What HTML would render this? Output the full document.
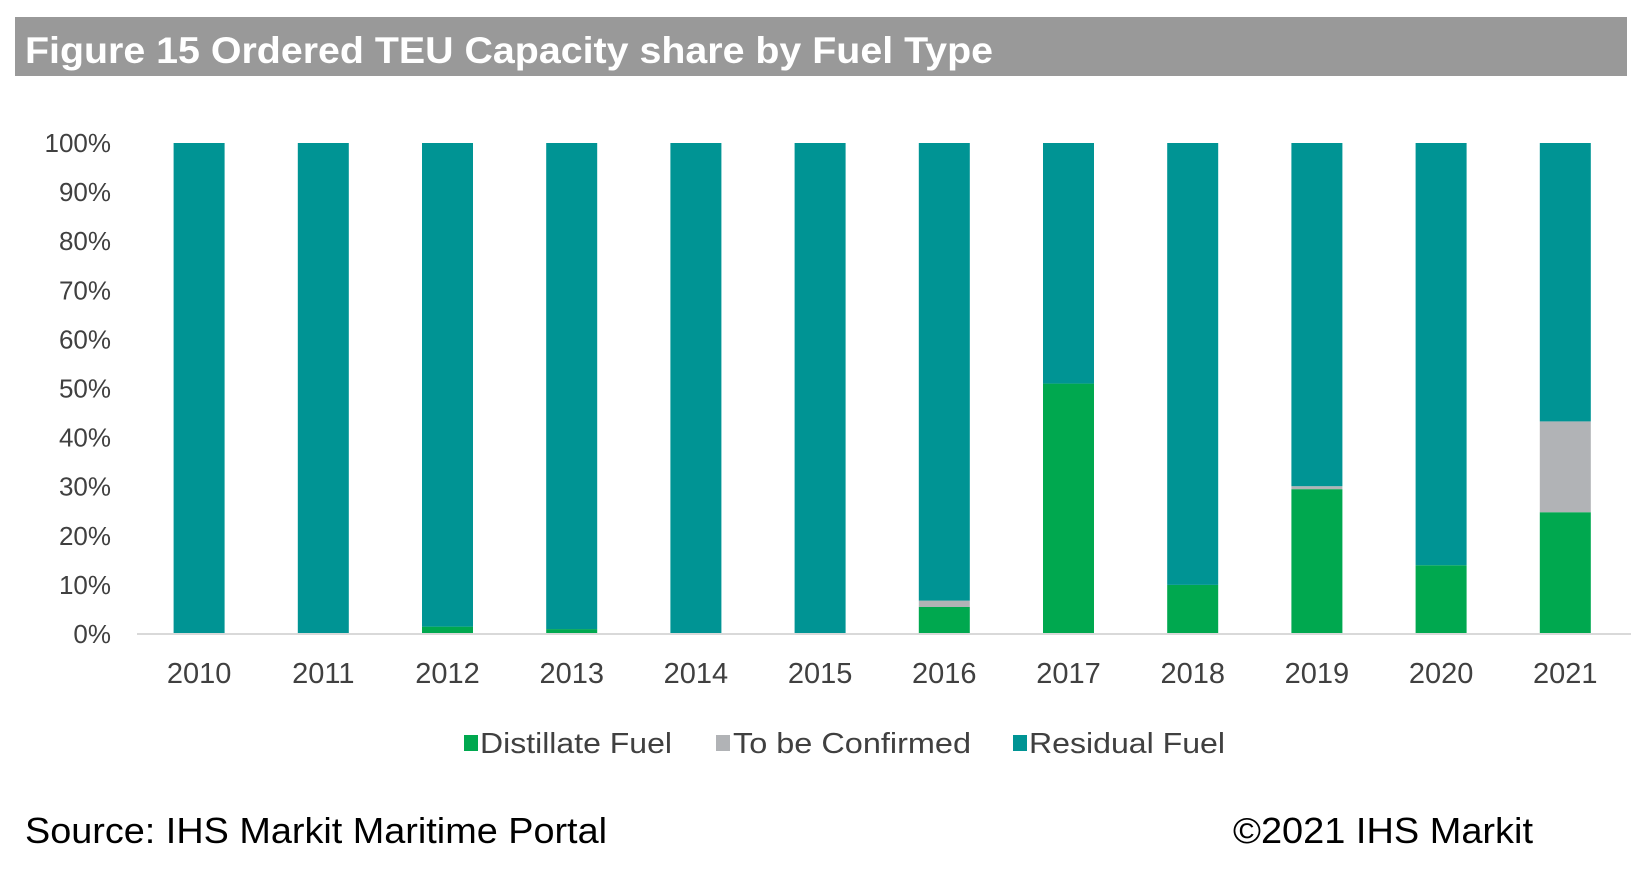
<!DOCTYPE html>
<html><head><meta charset="utf-8"><style>
html,body{margin:0;padding:0;background:#fff;}
svg{display:block;font-family:"Liberation Sans",Arial,sans-serif;}
</style></head><body>
<svg id="chart" width="1642" height="888" viewBox="0 0 1642 888">
<rect x="15" y="17" width="1612" height="59" fill="#999999"/>
<text x="25" y="63" font-size="37" font-weight="bold" fill="#ffffff" textLength="968" lengthAdjust="spacingAndGlyphs">Figure 15 Ordered TEU Capacity share by Fuel Type</text>
<g id="yaxis"></g>
<g id="bars"></g>
<line x1="137" y1="634" x2="1631" y2="634" stroke="#d9d9d9" stroke-width="2"/>
<g id="xaxis"></g>
<g>
<g><rect x="464" y="735" width="14" height="16" fill="#00a84f"/><text x="480" y="753" font-size="29" fill="#404040" textLength="192" lengthAdjust="spacingAndGlyphs">Distillate Fuel</text></g>
<g><rect x="716" y="735" width="14" height="16" fill="#b1b3b6"/><text x="733" y="753" font-size="29" fill="#404040" textLength="238" lengthAdjust="spacingAndGlyphs">To be Confirmed</text></g>
<g><rect x="1013" y="735" width="14" height="16" fill="#009494"/><text x="1029" y="753" font-size="29" fill="#404040" textLength="196" lengthAdjust="spacingAndGlyphs">Residual Fuel</text></g>
</g>
<text x="25" y="843" font-size="36" fill="#000" textLength="582" lengthAdjust="spacingAndGlyphs">Source: IHS Markit Maritime Portal</text>
<text x="1233" y="843" font-size="36" fill="#000" textLength="300" lengthAdjust="spacingAndGlyphs">©2021 IHS Markit</text>
</svg>
<script>
const categories = ["2010","2011","2012","2013","2014","2015","2016","2017","2018","2019","2020","2021"];
const distillate = [0,0,1.5,1,0,0,5.5,51,10,29.5,14,24.8];
const tbc = [0,0,0,0,0,0,1.3,0,0,0.6,0,18.5];
const yTicks = [0,10,20,30,40,50,60,70,80,90,100];
const yTickLabels = ["0%","10%","20%","30%","40%","50%","60%","70%","80%","90%","100%"];

const NS="http://www.w3.org/2000/svg";
const plotL=137, band=124.2, barW=51, y0=634, y100=143;
function y(v){return y0-(v/100)*(y0-y100);}
function xc(i){return plotL+band*(i+0.5);}
function mk(tag,attrs){const e=document.createElementNS(NS,tag);for(const k in attrs)e.setAttribute(k,attrs[k]);return e;}
const gy=document.getElementById('yaxis');
yTicks.forEach((t,i)=>{
  const e=mk('text',{x:111,y:y(t)+9,'font-size':26,fill:'#404040','text-anchor':'end'});
  e.textContent=yTickLabels[i];
  
  
  gy.appendChild(e);
});
const gx=document.getElementById('xaxis');
categories.forEach((c,i)=>{
  const e=mk('text',{x:xc(i),y:683,'font-size':29,fill:'#404040','text-anchor':'middle'});
  e.textContent=c;
  
  
  gx.appendChild(e);
});
const gb=document.getElementById('bars');
categories.forEach((c,i)=>{
  const d=distillate[i], t=tbc[i];
  const x=xc(i)-barW/2;
  const segs=[[0,d,'#00a84f','bar-distillate-'+c],[d,d+t,'#b1b3b6','bar-tbc-'+c],[d+t,100,'#009494','bar-residual-'+c]];
  segs.forEach(s=>{
    if(s[1]-s[0]<=0)return;
    const e=mk('rect',{x:x,y:y(s[1]),width:barW,height:y(s[0])-y(s[1]),fill:s[2]});
    
    
    gb.appendChild(e);
  });
});
</script>
</body></html>
